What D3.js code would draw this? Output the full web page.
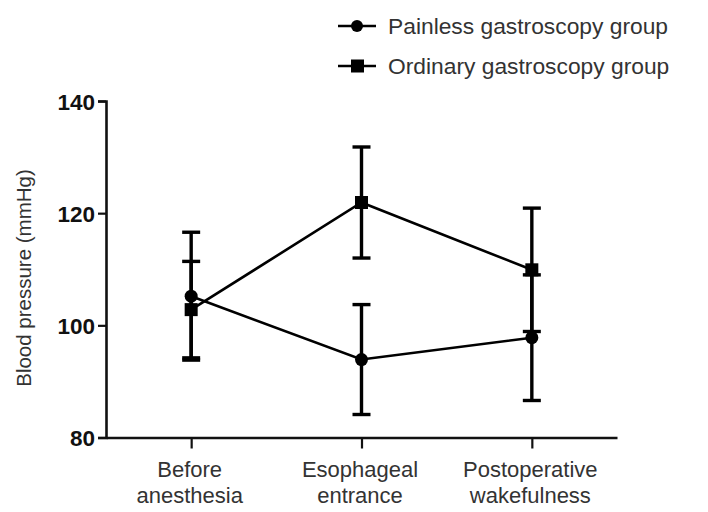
<!DOCTYPE html>
<html><head><meta charset="utf-8">
<script src="https://cdn.jsdelivr.net/npm/d3@7"></script>
<style>body{margin:0;background:#fff;} svg{display:block;}</style>
</head><body>
<svg id="chart" width="708" height="512"></svg>
<script>
const categories = [["Before","anesthesia"],["Esophageal","entrance"],["Postoperative","wakefulness"]];
const seriesNames = ["Painless gastroscopy group","Ordinary gastroscopy group"];
const painlessMean = [105.2, 93.9, 97.8];
const painlessSD = [11.4, 9.8, 11.2];
const ordinaryMean = [102.8, 121.9, 109.9];
const ordinarySD = [8.6, 9.9, 11.0];
const yTicks = [80, 100, 120, 140];
const yLabel = "Blood pressure (mmHg)";

const FONT = "Liberation Sans, Arial, sans-serif";
const svg = d3.select("#chart");
const x = d3.scalePoint().domain([0,1,2]).range([106, 617]).padding(0.5);
const y = d3.scaleLinear().domain([80,140]).range([437.5, 101]);

// axes
const yAxis = svg.append("g").attr("transform","translate(106,0)")
  .call(d3.axisLeft(y).tickValues(yTicks).tickSize(8).tickPadding(3));
yAxis.select(".domain").attr("stroke","#111").attr("stroke-width",2.6);
yAxis.selectAll(".tick line").attr("stroke","#111").attr("stroke-width",2.2);
yAxis.selectAll(".tick text").attr("font-family",FONT)
  .attr("font-size",22.5).attr("font-weight","bold").attr("fill","#111").attr("dy","0.36em");

const xAxis = svg.append("g").attr("transform","translate(0,437.5)")
  .call(d3.axisBottom(x).tickSize(11).tickSizeOuter(0).tickFormat(""));
xAxis.select(".domain").attr("stroke","#111").attr("stroke-width",2.6);
xAxis.selectAll(".tick line").attr("stroke","#111").attr("stroke-width",2.2);
xAxis.selectAll(".tick").each(function(d){
  const t = d3.select(this).append("text").attr("text-anchor","middle")
    .attr("font-family",FONT).attr("font-size",22).attr("fill","#333");
  t.append("tspan").attr("x",-2).attr("y",39.5).text(categories[d][0]);
  t.append("tspan").attr("x",-2).attr("y",65.5).text(categories[d][1]);
});

svg.append("text").attr("transform","translate(31,278) rotate(-90)")
  .attr("text-anchor","middle").attr("font-family",FONT)
  .attr("font-size",20.5).attr("fill","#333").text(yLabel);

const series = [
  {name: seriesNames[0], mean: painlessMean, sd: painlessSD, shape: "circle"},
  {name: seriesNames[1], mean: ordinaryMean, sd: ordinarySD, shape: "square"}
];

const line = d3.line().x((d,i)=>x(i)).y(d=>y(d));
series.forEach(s=>{
  const g = svg.append("g");
  s.mean.forEach((m,i)=>{
    const cx = x(i);
    g.append("line").attr("x1",cx).attr("x2",cx).attr("y1",y(m+s.sd[i])).attr("y2",y(m-s.sd[i]))
      .attr("stroke","#000").attr("stroke-width",3.4);
    [m+s.sd[i], m-s.sd[i]].forEach(v=>{
      g.append("line").attr("x1",cx-9).attr("x2",cx+9).attr("y1",y(v)).attr("y2",y(v))
        .attr("stroke","#000").attr("stroke-width",3.4);
    });
  });
  g.append("path").attr("d",line(s.mean)).attr("fill","none").attr("stroke","#000").attr("stroke-width",2.6);
  s.mean.forEach((m,i)=>{
    if (s.shape==="circle") g.append("circle").attr("cx",x(i)).attr("cy",y(m)).attr("r",6.5).attr("fill","#000");
    else g.append("rect").attr("x",x(i)-6.5).attr("y",y(m)-6.5).attr("width",13).attr("height",13).attr("fill","#000");
  });
});

// legend
const leg = svg.append("g");
series.forEach((s,k)=>{
  const ly = 26 + k*40;
  leg.append("line").attr("x1",338).attr("x2",376).attr("y1",ly).attr("y2",ly).attr("stroke","#000").attr("stroke-width",2.6);
  if (s.shape==="circle") leg.append("circle").attr("cx",357).attr("cy",ly).attr("r",6).attr("fill","#000");
  else leg.append("rect").attr("x",351).attr("y",ly-6.5).attr("width",13).attr("height",13).attr("fill","#000");
  leg.append("text").attr("x",388).attr("y",ly+8).attr("font-family",FONT)
    .attr("font-size",22.8).attr("fill","#333").text(s.name);
});
</script>
</body></html>
